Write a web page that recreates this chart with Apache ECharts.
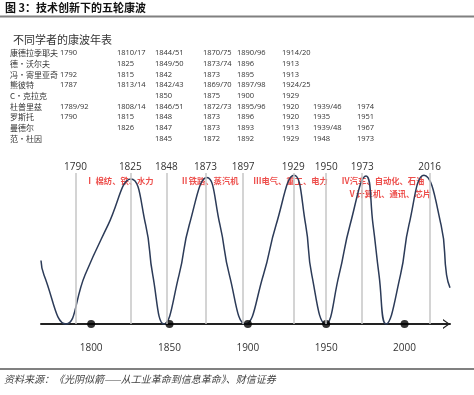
<!DOCTYPE html>
<html><head><meta charset="utf-8">
<script src="https://cdn.jsdelivr.net/npm/echarts@6/dist/echarts.min.js"></script>
<style>html,body{margin:0;padding:0;background:#fff}#c{width:474px;height:395px}</style>
</head><body><div id="c"></div>
<script>
// ---- data ----
const headerTitle = '图 3：技术创新下的五轮康波';
const tableTitle = '不同学者的康波年表';
const sourceText = '资料来源：《光阴似箭——从工业革命到信息革命》、财信证券';

const scholars = ['康德拉季耶夫', '德·沃尔夫', '冯·寄里亚奇', '熊彼特', 'C·克拉克', '杜普里兹', '罗斯托', '曼德尔', '范·杜因'];
const scholarYears = [
  ['1790', '1810/17', '1844/51', '1870/75', '1890/96', '1914/20', '', ''],
  ['', '1825', '1849/50', '1873/74', '1896', '1913', '', ''],
  ['1792', '1815', '1842', '1873', '1895', '1913', '', ''],
  ['1787', '1813/14', '1842/43', '1869/70', '1897/98', '1924/25', '', ''],
  ['', '', '1850', '1875', '1900', '1929', '', ''],
  ['1789/92', '1808/14', '1846/51', '1872/73', '1895/96', '1920', '1939/46', '1974'],
  ['1790', '1815', '1848', '1873', '1896', '1920', '1935', '1951'],
  ['', '1826', '1847', '1873', '1893', '1913', '1939/48', '1967'],
  ['', '', '1845', '1872', '1892', '1929', '1948', '1973']
];

const guideYears = [1790, 1825, 1848, 1873, 1897, 1929, 1950, 1973, 2016];
const axisYears = [1800, 1850, 1900, 1950, 2000];

const waveYears  = [1768, 1769.9, 1784, 1796.1, 1810.8, 1825.4, 1834.8, 1839.3, 1846.5, 1856.1, 1862.6, 1873.9, 1882.2, 1888.2, 1898.5, 1909.9, 1918, 1929.5, 1936.9, 1940.8, 1949.6, 1958.2, 1965.2, 1975.4, 1979.9, 1983.7, 1988.2, 1997.4, 2002.8, 2012.4, 2023.3, 2026.8, 2029];
const waveValues = [42, 32.5, 0, 32.5, 65.6, 96, 65.6, 32.5, 0, 32.5, 65.6, 97, 65.6, 32.5, 0, 32.5, 65.6, 98.5, 65.6, 32.5, 0, 32.5, 65.6, 98, 65.6, 32.5, 0, 32.5, 65.6, 98.5, 65.6, 32.5, 24];

const eraLabels = ['Ⅰ 棉纺、铁、水力', 'Ⅱ铁路、蒸汽机', 'Ⅲ电气、重工、电力', 'Ⅳ汽车、自动化、石油', 'Ⅴ计算机、通讯、芯片'];
const eraYears  = [1818.1, 1875.5, 1927.2, 1986.2, 1990.4];
const eraLevels = [94.7, 94.7, 94.7, 94.7, 86.1];

// ---- layout ----
const CJK = '"Noto Sans CJK SC", sans-serif';
const NUM = '"Open Sans", "Noto Sans CJK SC", sans-serif';
const colX = [60, 117, 155, 203, 237, 282, 313, 357];
const rowY0 = 53.3, rowStep = 10.67;

const graphics = [
  { type: 'text', style: { text: headerTitle, x: 5, y: 8, fill: '#111', fontSize: 11, fontWeight: 'bold', fontFamily: CJK, verticalAlign: 'middle' } },
  { type: 'line', shape: { x1: 0, y1: 16.5, x2: 474, y2: 16.5 }, style: { stroke: '#808080', lineWidth: 2 } },
  { type: 'text', style: { text: tableTitle, x: 13, y: 39.5, fill: '#333', fontSize: 11, fontFamily: CJK, verticalAlign: 'middle' } },
  { type: 'line', shape: { x1: 0, y1: 369, x2: 474, y2: 369 }, style: { stroke: '#808080', lineWidth: 2 } },
  { type: 'text', style: { text: sourceText, x: 4, y: 379, fill: '#444', fontSize: 10, fontStyle: 'italic', fontFamily: CJK, verticalAlign: 'middle' } }
];
scholars.forEach((name, i) => {
  const y = rowY0 + i * rowStep;
  graphics.push({ type: 'text', style: { text: name, x: 10, y: y, fill: '#333', fontSize: 8, fontFamily: CJK, verticalAlign: 'middle' } });
  scholarYears[i].forEach((t, j) => {
    if (!t) return;
    graphics.push({ type: 'text', style: { text: t, x: colX[j], y: y, fill: '#333', fontSize: 7.5, fontFamily: NUM, verticalAlign: 'middle' } });
  });
});

const chart = echarts.init(document.getElementById('c'), null, { renderer: 'canvas' });
chart.setOption({
  animation: false,
  backgroundColor: '#fff',
  grid: { left: 41, right: 24, top: 173, bottom: 71 },
  xAxis: {
    type: 'value', min: 1768, max: 2029,
    splitLine: { show: false },
    axisTick: { show: false },
    axisLine: {
      show: true,
      lineStyle: { color: '#222', width: 2 },
      symbol: ['none', 'path://M0,14 L10,0 L20,14 L17,14 L10,4 L3,14 Z'],
      symbolSize: [10, 7],
      symbolOffset: [0, -3.5]
    },
    axisLabel: {
      customValues: axisYears,
      margin: 19,
      color: '#333', fontSize: 10, fontFamily: NUM,
      formatter: v => String(v)
    }
  },
  yAxis: { type: 'value', min: 0, max: 100, show: false, splitLine: { show: false } },
  graphic: graphics,
  series: [
    {
      name: 'eras', type: 'scatter', z: 1,
      symbol: 'circle', symbolSize: 1, itemStyle: { color: 'rgba(0,0,0,0)' },
      clip: false, silent: true,
      data: eraLabels.map((t, i) => ({ name: t, value: [eraYears[i], eraLevels[i]] })),
      label: { show: true, position: 'inside', formatter: '{b}', color: '#e8231f', fontSize: 8.3, fontWeight: 'bold', fontFamily: CJK },
      markLine: {
        silent: true, symbol: ['none', 'none'], animation: false,
        lineStyle: { color: '#c6c6c6', width: 1.5, type: 'solid' },
        label: { show: true, position: 'end', distance: 1, formatter: '{b}', color: '#333', fontSize: 10, fontFamily: NUM },
        data: guideYears.map(y => [{ coord: [y, 0], name: String(y) }, { coord: [y, 100] }])
      }
    },
    {
      name: 'wave', type: 'line', z: 3,
      data: waveYears.map((y, i) => [y, waveValues[i]]),
      smooth: 0.5,
      showSymbol: false, symbol: 'none', clip: false,
      lineStyle: { color: '#2c3b58', width: 1.5 }
    },
    {
      name: 'ticks', type: 'scatter', z: 4,
      data: axisYears.map(y => [y, 0]),
      symbol: 'circle', symbolSize: 8, clip: false,
      itemStyle: { color: '#000' }
    }
  ]
});
</script>
</body></html>
